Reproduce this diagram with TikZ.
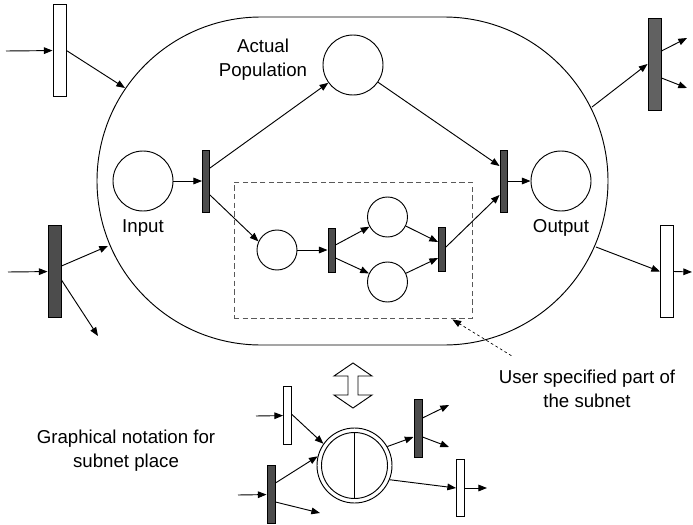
\documentclass[tikz,border=0pt]{standalone}
\usepackage{fontspec}
\setmainfont{Liberation Sans}
\usetikzlibrary{arrows.meta,calc,positioning}
\definecolor{trdark}{gray}{0.30}
\definecolor{trmid}{gray}{0.38}
\definecolor{boxgray}{gray}{0.35}

\begin{document}
\begin{tikzpicture}[x=0.75pt, y=-0.75pt, line width=0.7pt,
    >={Triangle[length=6.5pt,width=5pt]},
    place/.style={circle, draw, inner sep=0pt, minimum size=45pt},
    splace/.style={circle, draw, inner sep=0pt, minimum size=30pt},
    trans/.style={rectangle, draw, fill=trdark, inner sep=0pt, minimum width=5.25pt},
    outtrans/.style={rectangle, draw, inner sep=0pt, minimum width=9.75pt, minimum height=69pt},
    minitrans/.style={rectangle, draw, inner sep=0pt, minimum width=6pt, minimum height=43pt},
    lbl/.style={font=\fontsize{14}{18}\selectfont, align=center, inner sep=0pt}]

    \useasboundingbox (0,0) rectangle (693,525);

    % the subnet place, opened
    \draw[rounded corners=123pt] (97,17) rectangle (608,345);

    \node[place] (in) at (143,181) {};
    \node[place] (pop) at (353,65) {};
    \node[place] (out) at (561,181) {};
    \node[trans, minimum height=46.5pt] (t1) at (206,181) {};
    \node[trans, minimum height=46.5pt] (t2) at (503.5,181) {};

    \node[rectangle, draw=boxgray, dash pattern=on 4pt off 2.5pt, minimum width=178.5pt,
      minimum height=102pt] (usr) at (353,250) {};
    \node[splace] (p1) at (277,250) {};
    \node[trans, minimum height=33pt] (t3) at (331.5,250) {};
    \node[splace] (p2) at (387.5,217) {};
    \node[splace] (p3) at (387.5,282) {};
    \node[trans, minimum height=33pt] (t4) at (442,249) {};

    \node[lbl] (popl) at (263,60) {Actual\\Population};
    \node[lbl, anchor=base] (inl) at (143,232) {Input};
    \node[lbl, anchor=base] (outl) at (561,232) {Output};

    \draw[->] (in) -- (t1);
    \draw[->] ($(t1.east)+(0,-13)$) -- (pop);
    \draw[->] ($(t1.east)+(0,14)$) -- (p1.155);
    \draw[->] (pop) -- ($(t2.west)+(0,-15)$);
    \draw[->] (t2) -- (out);
    \draw[->] (p1) -- (t3);
    \draw[->] ($(t3.east)+(0,-5)$) -- (p2);
    \draw[->] ($(t3.east)+(0,8)$) -- (p3);
    \draw[->] (p2) -- ($(t4.west)+(0,-7)$);
    \draw[->] (p3) -- ($(t4.west)+(0,9)$);
    \draw[->] ($(t4.east)+(0,-2)$) -- ($(t2.west)+(0,14)$);

    % transitions outside
    \node[outtrans, fill=white] (tl) at (59.5,50.5) {};
    \node[outtrans, fill=trmid] (tr) at (654.5,64) {};
    \node[outtrans, fill=trdark] (bl) at (54.5,271.5) {};
    \node[outtrans, fill=white] (br) at (667,271.5) {};

    \coordinate (tlin) at (6,51);
    \coordinate (sA) at (125,88);
    \coordinate (sB) at (592,107);
    \coordinate (troutA) at (687,38);
    \coordinate (troutB) at (687,88);
    \coordinate (blin) at (8,272);
    \coordinate (sC) at (108,246);
    \coordinate (bloutB) at (98,336);
    \coordinate (sD) at (596,247);
    \coordinate (brout) at (692,272);

    \draw[->] (tlin) -- (tl);
    \draw[->] (tl.east) -- (sA);
    \draw[->] (sB) -- (tr.west);
    \draw[->] ($(tr.east)+(0,-13)$) -- (troutA);
    \draw[->] ($(tr.east)+(0,14)$) -- (troutB);
    \draw[->] (blin) -- (bl);
    \draw[->] ($(bl.east)+(0,-5.5)$) -- (sC);
    \draw[->] ($(bl.east)+(0,8.5)$) -- (bloutB);
    \draw[->] (sD) -- (br.west);
    \draw[->] (br.east) -- (brout);

    % user specified part
    \node[lbl] (usrl) at (587,389) {User specified part of\\the subnet};
    \draw[->, line width=0.5pt, dash pattern=on 2pt off 2pt] ($(usrl.north west)+(13,-14)$) -- ($(usr.south east)+(-20,1)$);

    % correspondence
    \draw (353,363) -- (372,376) -- (358,376) -- (358,395) -- (372,395) -- (353,408)
      -- (334,395) -- (348,395) -- (348,376) -- (334,376) -- cycle;

    % graphical notation
    \node[circle, draw, inner sep=0pt, minimum size=56.25pt] (spn) at (354.5,465.5) {};
    \draw (spn.center) circle[radius=24.75pt];
    \draw ($(spn.center)+(0,-33)$) -- ($(spn.center)+(0,33)$);

    \node[minitrans, fill=white] (ta) at (287.5,415.5) {};
    \node[minitrans, fill=trdark] (tb) at (271,494.5) {};
    \node[minitrans, fill=trdark] (tc) at (418,428.5) {};
    \node[minitrans, fill=white] (td) at (460.5,488) {};

    \coordinate (tain) at (256,416);
    \coordinate (tbin) at (238,495);
    \coordinate (tboutB) at (320,513);
    \coordinate (tcoutA) at (449,405);
    \coordinate (tcoutB) at (449,447);
    \coordinate (tdout) at (487,488);

    \draw[->] (tain) -- (ta);
    \draw[->] ($(ta.east)+(0,-1)$) -- (spn.145);
    \draw[->] (tbin) -- (tb);
    \draw[->] ($(tb.east)+(0,-11.5)$) -- (spn.166);
    \draw[->] ($(tb.east)+(0,7.5)$) -- (tboutB);
    \draw[->] (spn.30) -- ($(tc.west)+(0,8.5)$);
    \draw[->] ($(tc.east)+(0,-10.5)$) -- (tcoutA);
    \draw[->] ($(tc.east)+(0,8.5)$) -- (tcoutB);
    \draw[->] (spn.-22) -- (td.west);
    \draw[->] (td) -- (tdout);

    \node[lbl] (spnl) at (126,451) {Graphical notation for\\subnet place};

\end{tikzpicture}
\end{document}
